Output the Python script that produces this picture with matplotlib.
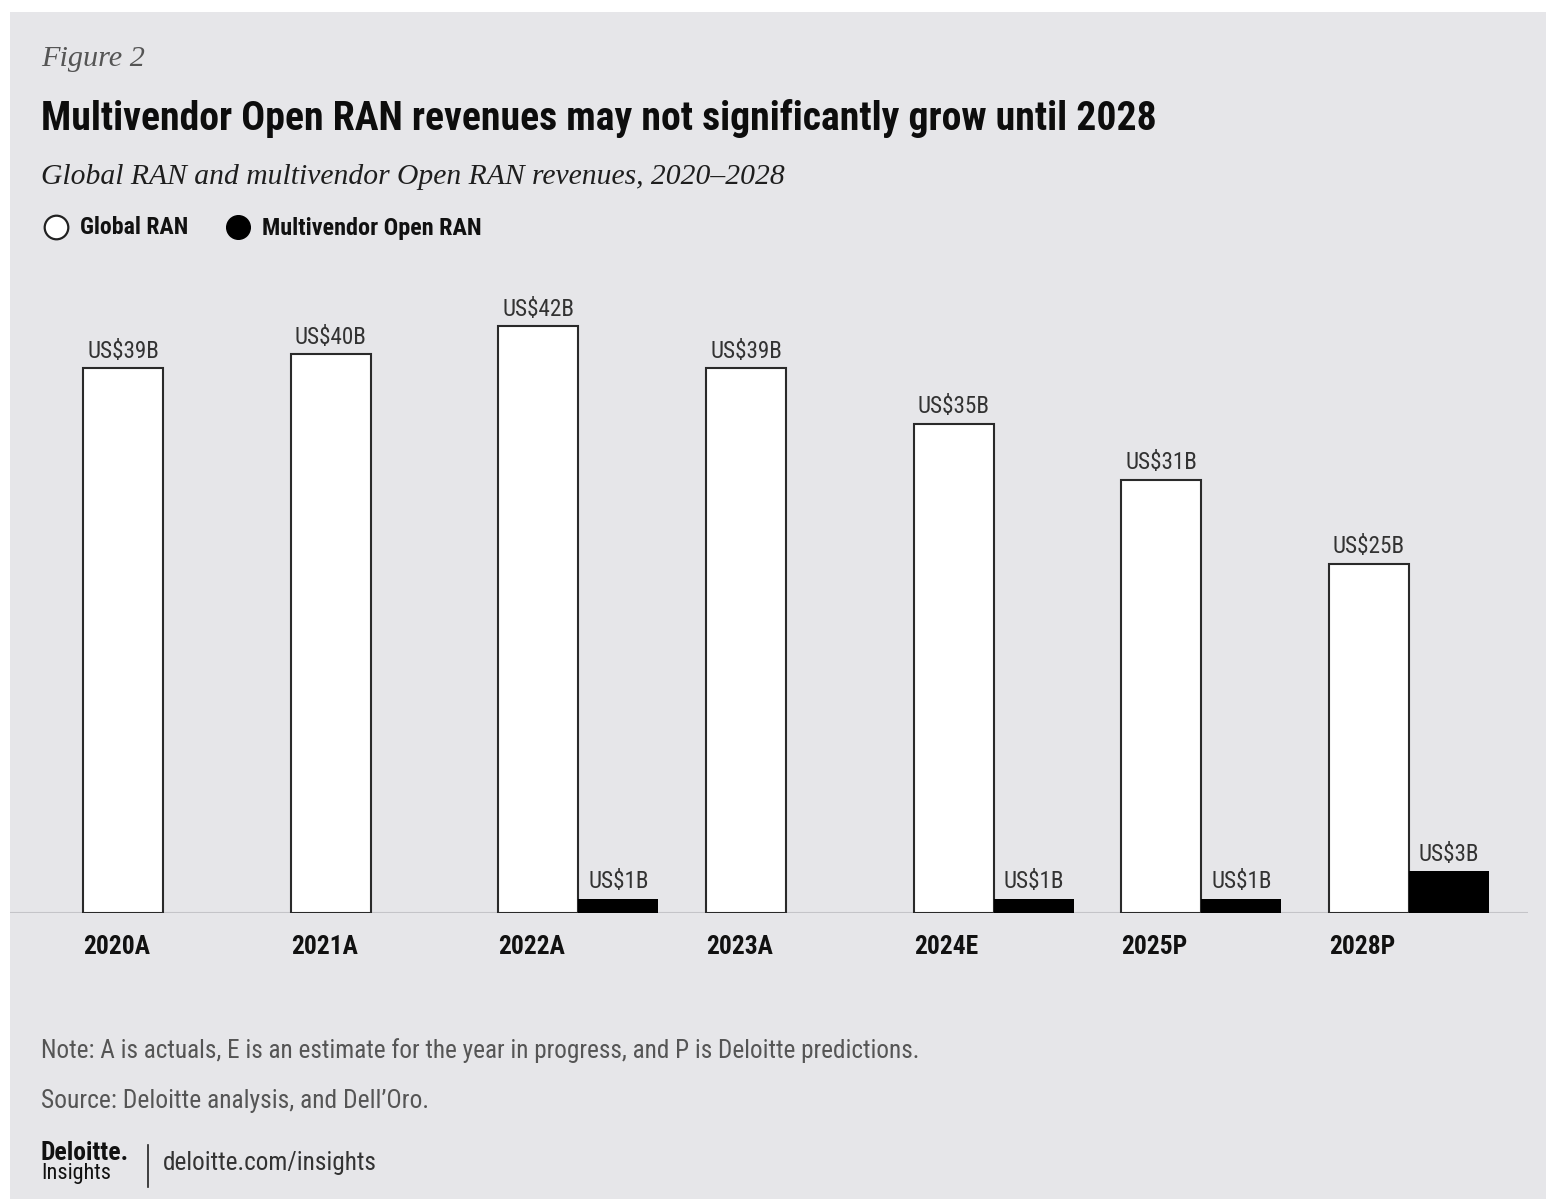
import matplotlib
matplotlib.use("Agg")
import matplotlib.pyplot as plt
from matplotlib.lines import Line2D
from matplotlib.patches import Rectangle
import numpy as np

years = ["2020A", "2021A", "2022A", "2023A", "2024E", "2025P", "2028P"]
global_ran = [39, 40, 42, 39, 35, 31, 25]
open_ran = [None, None, 1, None, 1, 1, 3]

W, H = 1547, 1199
BG = "#e6e6e9"
NARROW = ["Roboto Condensed", "Open Sans Condensed", "Liberation Sans Narrow",
          "Roboto", "DejaVu Sans"]
SERIF = ["Liberation Serif", "DejaVu Serif"]

fig = plt.figure(figsize=(W / 100, H / 100), dpi=100, facecolor="white")
fig.add_artist(Rectangle((10 / W, 0), (W - 11) / W, 1 - 12 / H,
                         transform=fig.transFigure, facecolor=BG,
                         edgecolor="none", zorder=-10))
renderer = fig.canvas.get_renderer()


def fit(t, width):
    w = t.get_window_extent(renderer).width
    t.set_fontsize(t.get_fontsize() * width / w)
    return t.get_fontsize()


def px(x, y):
    return x / W, 1 - y / H


def put(x, y, s, width=None, **kw):
    t = fig.text(*px(x, y), s, va="center", **kw)
    if width:
        fit(t, width)
    return t


# header
put(41, 59, "Figure 2", width=104, family=SERIF, style="italic",
    fontsize=20, color="#555555")
put(41, 118, "Multivendor Open RAN revenues may not significantly grow until 2028",
    width=1120, family=NARROW, weight="black", fontsize=26, color="#0d0d0d")
put(41, 177, "Global RAN and multivendor Open RAN revenues, 2020\u20132028",
    width=742, family=SERIF, style="italic", fontsize=22, color="#1e1e1e")

# legend
fig.add_artist(Line2D([56 / W], [1 - 227 / H], marker="o", markersize=17,
                      markerfacecolor="white", markeredgecolor="#222222",
                      markeredgewidth=1.6, transform=fig.transFigure))
fig.add_artist(Line2D([238 / W], [1 - 227 / H], marker="o", markersize=17,
                      markerfacecolor="black", markeredgecolor="black",
                      transform=fig.transFigure))
put(80, 228, "Global RAN", width=108, family=NARROW, weight="bold",
    fontsize=16, color="#111111")
put(262, 228, "Multivendor Open RAN", width=219, family=NARROW, weight="bold",
    fontsize=16, color="#111111")

# bars
step = (1369 - 123) / 6
bw = 80 / step
x0 = (10 - 123) / step
x1 = (1528 - 123) / step
top_px = 290
ymax = (913 - top_px) / 13.97

ax = fig.add_axes([10 / W, 1 - 913 / H, (1528 - 10) / W, (913 - top_px) / H])
ax.set_facecolor("none")
ax.set_xlim(x0, x1)
ax.set_ylim(0, ymax)
x = np.arange(len(years))

# label size taken from one sample label
probe = fig.text(0, 0, "US$39B", family=NARROW, fontsize=16)
lab_fs = fit(probe, 72)
probe.remove()
probe = fig.text(0, 0, "2020A", family=NARROW, weight="bold", fontsize=16)
tick_fs = fit(probe, 67)
probe.remove()

ax.bar(x, global_ran, width=bw, color="white", edgecolor="#2a2a2a",
       linewidth=1.5, zorder=3)
for i, v in enumerate(global_ran):
    ax.annotate(f"US${v}B", (x[i], v), xytext=(0, 4), textcoords="offset points",
                ha="center", va="bottom", family=NARROW, fontsize=lab_fs,
                color="#333333")

for i, v in enumerate(open_ran):
    if v is None:
        continue
    ax.bar(x[i] + bw, v, width=bw, color="black", edgecolor="none", zorder=3)
    ax.annotate(f"US${v}B", (x[i] + bw, v), xytext=(0, 4),
                textcoords="offset points", ha="center", va="bottom",
                family=NARROW, fontsize=lab_fs, color="#333333")

ax.axhline(0, color="#c4c4c8", lw=1.5, zorder=2)
for s in ax.spines.values():
    s.set_visible(False)
ax.set_yticks([])
ax.set_xticks(x - bw / 2)
ax.set_xticklabels(years, ha="left", family=NARROW, weight="bold",
                   fontsize=tick_fs, color="#111111")
ax.tick_params(axis="x", length=0, pad=16)

# footer
put(41, 1051, "Note: A is actuals, E is an estimate for the year in progress, "
    "and P is Deloitte predictions.", width=880, family=NARROW,
    fontsize=17, color="#555555")
put(41, 1101, "Source: Deloitte analysis, and Dell\u2019Oro.", width=387,
    family=NARROW, fontsize=17, color="#555555")
put(41, 1153, "Deloitte.", width=88, family=NARROW, weight="bold",
    fontsize=15, color="#111111")
put(41, 1173, "Insights", width=70, family=NARROW, fontsize=15,
    color="#111111")
fig.add_artist(Line2D([148 / W, 148 / W], [1 - 1145 / H, 1 - 1187 / H],
                      color="#222222", lw=1.2, transform=fig.transFigure))
put(163, 1163, "deloitte.com/insights", width=214, family=NARROW,
    fontsize=17, color="#333333")

fig.savefig("out.png", dpi=100, facecolor=fig.get_facecolor())
